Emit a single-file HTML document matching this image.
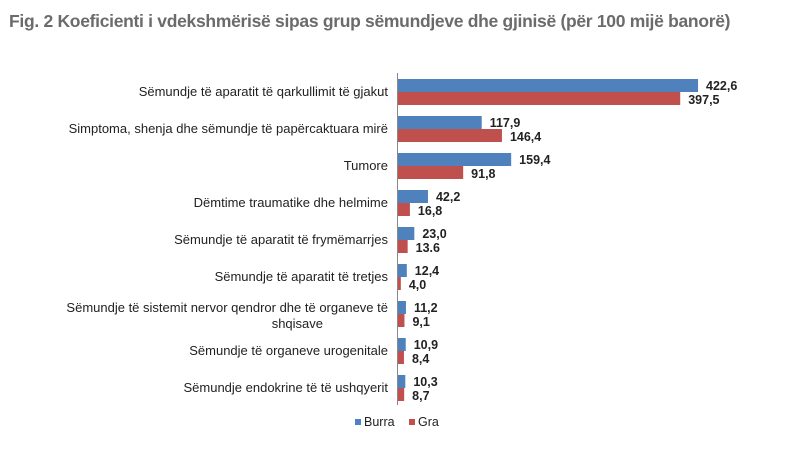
<!DOCTYPE html>
<html><head><meta charset="utf-8"><style>
body{margin:0;background:#fff;width:800px;height:457px;overflow:hidden;font-family:"Liberation Sans",sans-serif}
</style></head><body>
<svg width="800" height="457" xmlns="http://www.w3.org/2000/svg">
<text x="9" y="27" font-size="17.5" font-weight="bold" fill="#6b6b6b" letter-spacing="-0.3">Fig. 2 Koeficienti i vdekshmërisë sipas grup sëmundjeve dhe gjinisë (për 100 mijë banorë)</text>
<g id="plot"></g>
<line x1="397.5" y1="73" x2="397.5" y2="405" stroke="#888" stroke-width="1"/>
<rect x="355" y="419" width="6" height="6" fill="#4F81BD"/>
<text x="364" y="426" font-size="12.5" fill="#222">Burra</text>
<rect x="409" y="419" width="6" height="6" fill="#C0504D"/>
<text x="418" y="426" font-size="12.5" fill="#222">Gra</text>
</svg>
<script>
const categories=[["Sëmundje të aparatit të qarkullimit të gjakut"],["Simptoma, shenja dhe sëmundje të  papërcaktuara mirë"],["Tumore"],["Dëmtime traumatike dhe helmime"],["Sëmundje të aparatit të frymëmarrjes"],["Sëmundje të aparatit të tretjes"],["Sëmundje të sistemit nervor qendror dhe të organeve të","shqisave"],["Sëmundje të organeve urogenitale"],["Sëmundje endokrine të të ushqyerit"]];
const burra=[422.6,117.9,159.4,42.2,23.0,12.4,11.2,10.9,10.3];
const gra=[397.5,146.4,91.8,16.8,13.6,4.0,9.1,8.4,8.7];
const burraLabels=["422,6","117,9","159,4","42,2","23,0","12,4","11,2","10,9","10,3"];
const graLabels=["397,5","146,4","91,8","16,8","13.6","4,0","9,1","8,4","8,7"];
const NS="http://www.w3.org/2000/svg";
const g=document.getElementById("plot");
const x0=398, k=0.71;
function xs(v){return x0+v*k;}
function yc(i){return 92+i*37;}
function mk(t,a){const e=document.createElementNS(NS,t);for(const q in a)e.setAttribute(q,a[q]);g.appendChild(e);return e;}
categories.forEach((c,i)=>{
  const y=yc(i);
  const lab=mk("text",{x:388,"text-anchor":"end","font-size":"13",fill:"#222"});
  
  
  if(c.length===1){lab.setAttribute("y",y+4);lab.textContent=c[0];}
  else{c.forEach((s,j)=>{const t=document.createElementNS(NS,"tspan");t.setAttribute("x",j?323:388);t.setAttribute("y",y-2+j*16);t.textContent=s;lab.appendChild(t);});}
  const b=mk("rect",{x:x0,y:y-13,width:xs(burra[i])-x0,height:13,fill:"#4F81BD"});
  
  
  const r=mk("rect",{x:x0,y:y,width:xs(gra[i])-x0,height:13,fill:"#C0504D"});
  
  
  const tb=mk("text",{x:xs(burra[i])+8,y:y-2,"font-size":"12.5","font-weight":"bold",fill:"#222"});
  tb.textContent=burraLabels[i];
  
  
  const tg=mk("text",{x:xs(gra[i])+8,y:y+12,"font-size":"12.5","font-weight":"bold",fill:"#222"});
  tg.textContent=graLabels[i];
  
  
});
</script>
</body></html>
